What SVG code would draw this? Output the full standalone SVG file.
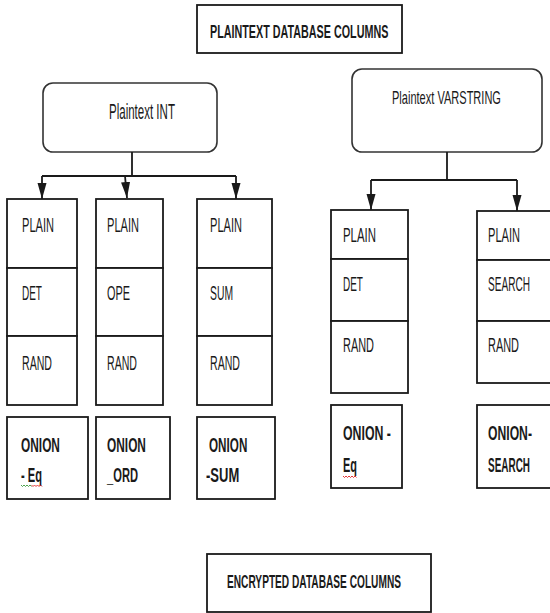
<svg xmlns="http://www.w3.org/2000/svg" width="550" height="613" viewBox="0 0 550 613">
<style>
.box{fill:#fff;stroke:#1a1a1a;stroke-width:1.8}
.rbox{fill:#fff;stroke:#333;stroke-width:1.6}
.t{font-family:"Liberation Sans",Arial,sans-serif;font-size:14px;fill:#1a1a1a}
.b{font-family:"Liberation Sans",Arial,sans-serif;font-size:14px;font-weight:bold;fill:#1a1a1a}
.c{fill:none;stroke:#1a1a1a;stroke-width:1.8}
</style>
<defs>
<marker id="ah" markerUnits="userSpaceOnUse" markerWidth="16" markerHeight="10" refX="16" refY="5" orient="auto">
<path d="M0,0.5 L16,5 L0,9.5 z" fill="#1a1a1a"/>
</marker>
</defs>
<g id="title">
<rect class="box" x="197" y="5" width="205" height="48"/>
<text class="b" transform="matrix(0.769,0,0,1.286,210,38)">PLAINTEXT DATABASE COLUMNS</text>
</g>
<g id="plaintext-int">
<rect class="rbox" x="43" y="83" width="174" height="69" rx="10"/>
<text class="t" transform="matrix(0.823,0,0,1.571,109,119)">Plaintext INT</text>
</g>
<g id="plaintext-varstring">
<rect class="rbox" x="352" y="69" width="190" height="83" rx="10"/>
<text class="t" transform="matrix(0.789,0,0,1.286,392,104)">Plaintext VARSTRING</text>
</g>
<g id="connectors">
<path class="c" d="M132,152 V176 M42,176 H236 M447,152 V180 M371,180 H517"/>
<path class="c" d="M42,176 V199" marker-end="url(#ah)"/>
<path class="c" d="M125,176 L127,198" marker-end="url(#ah)"/>
<path class="c" d="M236,176 V199" marker-end="url(#ah)"/>
<path class="c" d="M371,180 V210" marker-end="url(#ah)"/>
<path class="c" d="M517,180 V211" marker-end="url(#ah)"/>
</g>
<g id="col-int-eq">
<rect class="box" x="7" y="199" width="70" height="69"/>
<rect class="box" x="7" y="268" width="70" height="68"/>
<rect class="box" x="7" y="336" width="70" height="69"/>
<text class="t" transform="matrix(0.791,0,0,1.429,22,232)">PLAIN</text>
<text class="t" transform="matrix(0.714,0,0,1.429,22,300)">DET</text>
<text class="t" transform="matrix(0.756,0,0,1.429,22,370)">RAND</text>
</g>
<g id="col-int-ord">
<rect class="box" x="96" y="199" width="67" height="69"/>
<rect class="box" x="96" y="268" width="67" height="68"/>
<rect class="box" x="96" y="336" width="67" height="69"/>
<text class="t" transform="matrix(0.791,0,0,1.429,107,232)">PLAIN</text>
<text class="t" transform="matrix(0.779,0,0,1.429,107,300)">OPE</text>
<text class="t" transform="matrix(0.756,0,0,1.429,107,370)">RAND</text>
</g>
<g id="col-int-sum">
<rect class="box" x="197" y="199" width="75" height="69"/>
<rect class="box" x="197" y="268" width="75" height="68"/>
<rect class="box" x="197" y="336" width="75" height="69"/>
<text class="t" transform="matrix(0.791,0,0,1.429,210,232)">PLAIN</text>
<text class="t" transform="matrix(0.740,0,0,1.429,210,300)">SUM</text>
<text class="t" transform="matrix(0.756,0,0,1.429,210,370)">RAND</text>
</g>
<g id="onion-eq-int">
<rect class="box" x="7" y="417" width="81" height="82"/>
<text class="b" transform="matrix(0.850,0,0,1.429,21,452)">ONION</text>
<text class="b" transform="matrix(0.794,0,0,1.429,21,482)">- Eq</text>
<path d="M21,485 l1.5,1.5 l1.5,-1.5 l1.5,1.5 l1.5,-1.5 l1.5,1.5 l1.5,-1.5 l1.5,1.5" fill="none" stroke="#3a9a3a" stroke-width="0.9"/>
<path d="M31.5,485 l1.5,1.5 l1.5,-1.5 l1.5,1.5 l1.5,-1.5 l1.5,1.5 l1.5,-1.5 l1.5,1.5" fill="none" stroke="#e02020" stroke-width="0.9"/>
</g>
<g id="onion-ord">
<rect class="box" x="96" y="417" width="74" height="82"/>
<text class="b" transform="matrix(0.850,0,0,1.429,107,452)">ONION</text>
<text class="b" transform="matrix(0.797,0,0,1.429,107,482)">_ORD</text>
</g>
<g id="onion-sum">
<rect class="box" x="197" y="417" width="78" height="82"/>
<text class="b" transform="matrix(0.836,0,0,1.429,209,452)">ONION</text>
<text class="b" transform="matrix(0.929,0,0,1.429,206,482)">-SUM</text>
</g>
<g id="col-str-eq">
<rect class="box" x="331" y="210" width="77" height="49"/>
<rect class="box" x="331" y="259" width="77" height="62"/>
<rect class="box" x="331" y="321" width="77" height="72"/>
<text class="t" transform="matrix(0.816,0,0,1.429,343,242)">PLAIN</text>
<text class="t" transform="matrix(0.714,0,0,1.429,343,291)">DET</text>
<text class="t" transform="matrix(0.781,0,0,1.429,343,352)">RAND</text>
</g>
<g id="col-str-search">
<rect class="box" x="477" y="211" width="80" height="49"/>
<rect class="box" x="477" y="260" width="80" height="61"/>
<rect class="box" x="477" y="321" width="80" height="62"/>
<text class="t" transform="matrix(0.791,0,0,1.429,488,242)">PLAIN</text>
<text class="t" transform="matrix(0.720,0,0,1.429,488,291)">SEARCH</text>
<text class="t" transform="matrix(0.781,0,0,1.429,488,352)">RAND</text>
</g>
<g id="onion-eq-str">
<rect class="box" x="331" y="405" width="71" height="83"/>
<text class="b" transform="matrix(0.881,0,0,1.429,343,440)">ONION -</text>
<text class="b" transform="matrix(0.781,0,0,1.429,343,472)">Eq</text>
<path d="M343,476 l1.5,1.5 l1.5,-1.5 l1.5,1.5 l1.5,-1.5 l1.5,1.5 l1.5,-1.5 l1.5,1.5 l1.5,-1.5 l1.5,1.5" fill="none" stroke="#e02020" stroke-width="0.9"/>
</g>
<g id="onion-search">
<rect class="box" x="477" y="405" width="80" height="83"/>
<text class="b" transform="matrix(0.870,0,0,1.429,488,440)">ONION-</text>
<text class="b" transform="matrix(0.711,0,0,1.429,488,472)">SEARCH</text>
</g>
<g id="encrypted">
<rect class="box" x="207" y="554" width="224" height="58"/>
<text class="b" transform="matrix(0.725,0,0,1.286,227,588)">ENCRYPTED DATABASE COLUMNS</text>
</g>
</svg>
